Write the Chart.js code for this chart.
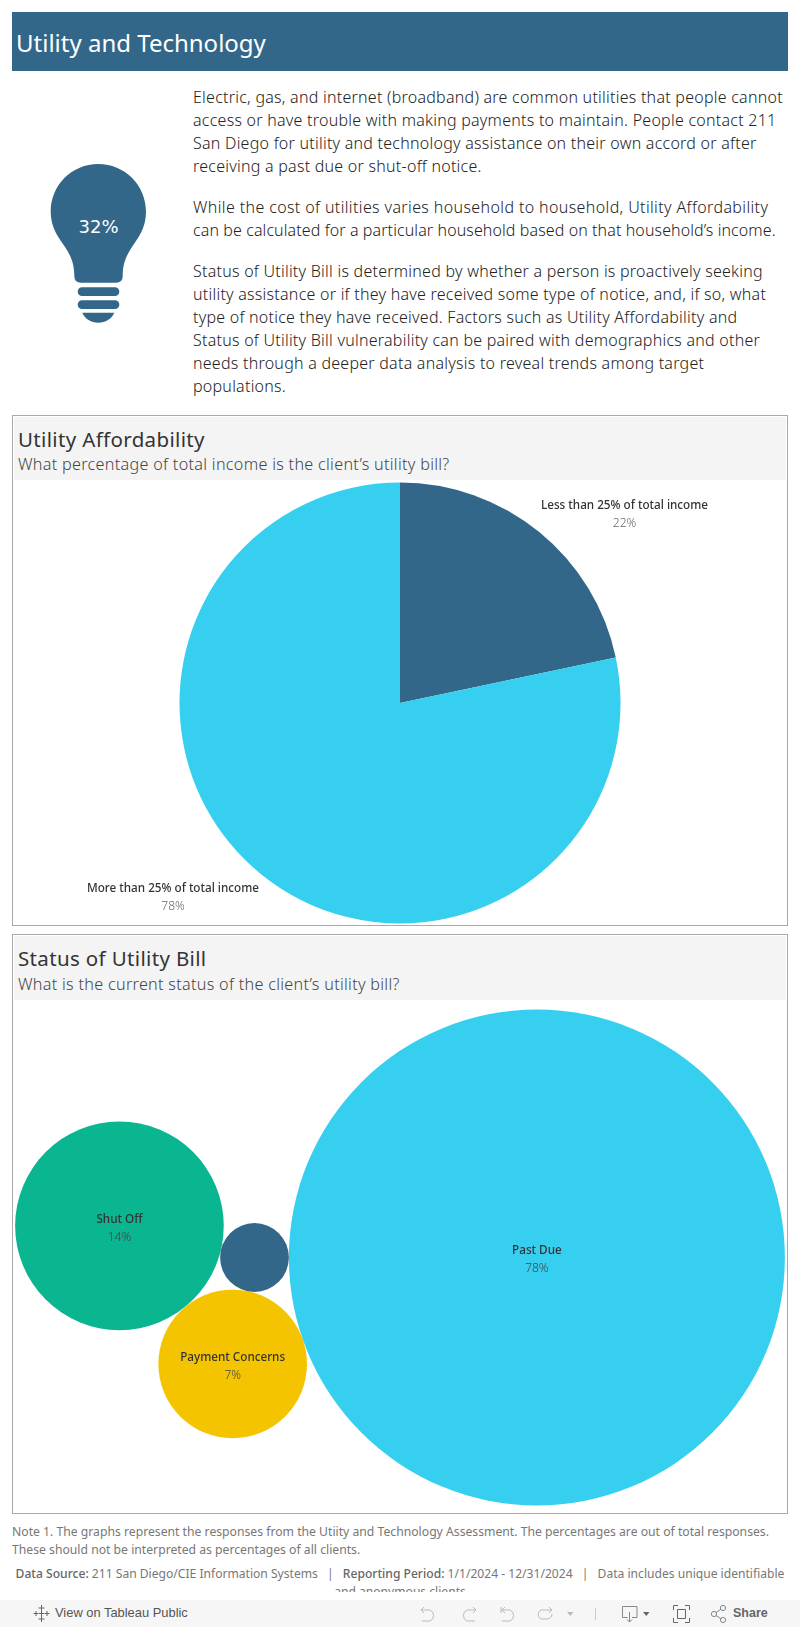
<!DOCTYPE html>
<html>
<head>
<meta charset="utf-8">
<title>Utility and Technology</title>
<script src="https://cdn.jsdelivr.net/npm/chart.js@4"></script>
<style>
  html, body { margin: 0; padding: 0; background: #fff; }
  body { position: relative; width: 800px; height: 1627px; overflow: hidden; font-family: "Noto Sans", sans-serif; color: #333; }
  .abs { position: absolute; white-space: nowrap; }
  #header { left: 12px; top: 12px; width: 776px; height: 59px; background: #33678a; }
  #header span { position: absolute; left: 4px; top: 14px; font-size: 24px; line-height: 34px; color: #fff; }
  .para { left: 193px; font-size: 16px; line-height: 23px; font-weight: 300; letter-spacing: 0.25px; color: #222; }
  .panel { left: 12px; width: 774px; border: 1px solid #aaa; background: #fff; }
  .band { position: absolute; left: 1px; right: 1px; top: 1px; background: #f4f4f4; }
  .ptitle { left: 18px; font-size: 20.5px; line-height: 26px; font-weight: 400; letter-spacing: 0.35px; color: #333; }
  .psub { left: 18px; font-size: 16.2px; line-height: 22px; font-weight: 300; letter-spacing: 0.29px; color: #444; }
  canvas { position: absolute; }
  .note { left: 12px; font-size: 12.2px; line-height: 18px; color: #777; }
  #source { left: 12px; top: 1565px; width: 776px; height: 27px; overflow: hidden; text-align: center; font-size: 12.1px; line-height: 18px; color: #777; }
  #source b { font-weight: 500; color: #666; }
  #source i { font-style: normal; margin: 0 6px; }
  #toolbar { left: 0; top: 1600px; width: 800px; height: 27px; background: #f6f6f6; }
  #toolbar span { position: absolute; top: 4px; font-family: "Liberation Sans", sans-serif; font-size: 12.9px; line-height: 18px; color: #555; }
  #toolbar svg { position: absolute; left: 0; top: 0; }
</style>
</head>
<body>

<div class="abs" id="header"><span>Utility and Technology</span></div>

<svg class="abs" style="left:0;top:0" width="190" height="340">
  <path fill="#33678a" d="M98.3 164C124.6 164 146 185 146 211.7C146 228 138 238 132 247C126 256 122.7 264 122.7 276Q122.7 282.7 116 282.7L81 282.7Q74.3 282.7 74.3 276C74.3 264 71 256 65 247C59 238 50.7 228 50.7 211.7C50.7 185 72 164 98.3 164Z"/>
  <rect x="77.7" y="287.3" width="41.6" height="8.7" rx="4.3" fill="#33678a"/>
  <rect x="77.7" y="300.3" width="41.6" height="8.7" rx="4.3" fill="#33678a"/>
  <path fill="#33678a" d="M82.3 312.7L114.3 312.7C111.5 319 105.5 322.7 98.3 322.7C91 322.7 85 319 82.3 312.7Z"/>
  <text x="98.5" y="233" text-anchor="middle" font-family="DejaVu Sans" font-size="18" fill="#fff">32%</text>
</svg>

<div class="abs para" style="top:86px">Electric, gas, and internet (broadband) are common utilities that people cannot<br>access or have trouble with making payments to maintain. People contact 211<br>San Diego for utility and technology assistance on their own accord or after<br>receiving a past due or shut-off notice.</div>
<div class="abs para" style="top:196px"><span style="letter-spacing:0.38px">While the cost of utilities varies household to household, Utility Affordability</span><br><span style="letter-spacing:0.1px">can be calculated for a particular household based on that household’s income.</span></div>
<div class="abs para" style="top:260px">Status of Utility Bill is determined by whether a person is proactively seeking<br>utility assistance or if they have received some type of notice, and, if so, what<br>type of notice they have received. Factors such as Utility Affordability and<br>Status of Utility Bill vulnerability can be paired with demographics and other<br>needs through a deeper data analysis to reveal trends among target<br>populations.</div>

<div class="abs panel" style="top:415px;height:509px"><div class="band" style="height:63px"></div></div>
<div class="abs ptitle" style="top:426px">Utility Affordability</div>
<div class="abs psub" style="top:453px">What percentage of total income is the client’s utility bill?</div>
<canvas id="pieChart" style="left:13px;top:481px"></canvas>

<div class="abs panel" style="top:934px;height:578px"><div class="band" style="height:64px"></div></div>
<div class="abs ptitle" style="top:945px">Status of Utility Bill</div>
<div class="abs psub" style="top:973px">What is the current status of the client’s utility bill?</div>
<canvas id="bubbleChart" style="left:13px;top:1001px"></canvas>

<div class="abs note" style="top:1523px">Note 1. The graphs represent the responses from the Utiity and Technology Assessment. The percentages are out of total responses.<br>These should not be interpreted as percentages of all clients.</div>
<div class="abs" id="source"><b>Data Source:</b> 211 San Diego/CIE Information Systems <i>|</i> <b>Reporting Period:</b> 1/1/2024 - 12/31/2024 <i>|</i> Data includes unique identifiable<br>and anonymous clients</div>

<div class="abs" id="toolbar">
  <svg width="800" height="27" fill="none" stroke="#888" stroke-width="1">
    <g stroke="#666"><path d="M41.5 5v6M38.5 8h6M41.5 16v6M38.5 19h6M36 11v5M33.5 13.5h5M47 11v5M44.5 13.5h5M41.5 11v5M39 13.5h5"/></g>
    <g stroke="#bbb">
      <path d="M421 10h9a6 6 0 0 1 0 11h-8M421 10l3-3M421 10l3 3"/>
      <path d="M476 10h-9a6 6 0 0 0 0 11h8M476 10l-3-3M476 10l-3 3"/>
      <path d="M501 7v6M501 10h9a6 6 0 0 1 0 11h-8M502 10l3-3M502 10l3 3"/>
      <path d="M552 10h-11a5 5 0 0 0 0 9h6a5 5 0 0 0 5-5M552 10l-3-3M552 10l-3 3"/>
      <path d="M595.5 8v12" stroke="#ccc"/>
    </g>
    <path d="M567 12h6.5l-3.25 4z" fill="#bbb" stroke="none"/>
    <path d="M622.5 6.5h14.5v11h-5M622.5 6.5v11h5M629.5 12v10M627 19.5l2.5 2.5l2.5-2.5"/>
    <path d="M643 12h6.5l-3.25 4z" fill="#666" stroke="none"/>
    <path d="M677.5 9.5h8v9h-8zM673.5 10v-4.5h4.5M689.5 10v-4.5h-4.5M673.5 18v4.5h4.5M689.5 18v4.5h-4.5" stroke="#666"/>
    <circle cx="714" cy="14" r="2.6"/><circle cx="723" cy="8" r="2.6"/><circle cx="723" cy="20" r="2.6"/>
    <path d="M716 12.5l5-3.3M716 15.5l5 3.3"/>
  </svg>
  <span style="left:55px">View on Tableau Public</span>
  <span style="left:733px;font-weight:700;color:#666;font-size:12.5px">Share</span>
</div>

<script>
// affordability pie
const pieLabels = ['Less than 25% of total income', 'More than 25% of total income'];
const pieValues = [21.7, 78.3];
const pieColors = ['#33678a', '#36cff0'];

// status of utility bill bubbles
const bubbleLabels = ['Past Due', 'Shut Off', 'Payment Concerns', ''];
const bubbleValues = [78, 13.8, 7, 1.5];
const bubbleColors = ['#36cff0', '#09b690', '#f5c400', '#33678a'];

const LABEL_FONT = '500 11.7px "Noto Sans", sans-serif';
const VALUE_FONT = '300 12px "Noto Sans", sans-serif';

function makeCanvas(id, width, height) {
    const canvas = document.getElementById(id);
    canvas.style.width = width + 'px';
    canvas.style.height = height + 'px';
    canvas.width = width;
    canvas.height = height;
    return canvas.getContext('2d');
}

function drawTwoLines(ctx, x, y, name, pct, nameColor, pctColor) {
    ctx.save();
    ctx.textAlign = 'center';
    ctx.textBaseline = 'middle';
    ctx.font = LABEL_FONT;
    ctx.fillStyle = nameColor;
    ctx.fillText(name, x, y - 7);
    ctx.font = VALUE_FONT;
    ctx.fillStyle = pctColor;
    ctx.fillText(pct, x, y + 11);
    ctx.restore();
}

// the pie labels sit outside the slices, Tableau style
const pieLabelOffsets = [[224.5, -190.5], [-227, 193]];

new Chart(makeCanvas('pieChart', 774, 444), {
    type: 'pie',
    data: {
        labels: pieLabels,
        datasets: [{
            data: pieValues,
            backgroundColor: pieColors,
            borderWidth: 0,
            radius: 220.5
        }]
    },
    options: {
        responsive: false,
        animation: false,
        layout: { padding: 0 },
        plugins: { legend: { display: false }, tooltip: { enabled: false } }
    },
    plugins: [{
        id: 'pieText',
        afterDatasetsDraw(chart) {
            const arc = chart.getDatasetMeta(0).data[0];
            pieLabels.forEach((label, i) => {
                const pct = Math.round(pieValues[i]) + '%';
                drawTwoLines(chart.ctx, arc.x + pieLabelOffsets[i][0], arc.y + pieLabelOffsets[i][1], label, pct, '#333', '#666');
            });
        }
    }]
});

// packed bubble layout: area follows the value, each circle leans on the earlier ones
function touching(a, ra, b, rb, r, side) {
    const d = Math.hypot(b.x - a.x, b.y - a.y);
    const da = ra + r;
    const db = rb + r;
    const along = (da * da - db * db + d * d) / (2 * d);
    const across = Math.sqrt(da * da - along * along) * side;
    const ux = (b.x - a.x) / d;
    const uy = (b.y - a.y) / d;
    return { x: a.x + ux * along - uy * across, y: a.y + uy * along + ux * across };
}

const sizes = bubbleValues.map(v => Math.sqrt(v));
const packed = [];
packed[0] = { x: 0, y: 0 };
packed[3] = { x: -(sizes[0] + sizes[3]), y: 0 };
packed[2] = touching(packed[0], sizes[0], packed[3], sizes[3], sizes[2], 1);
packed[1] = touching(packed[3], sizes[3], packed[2], sizes[2], sizes[1], -1);

const left = Math.min(...packed.map((p, i) => p.x - sizes[i]));
const right = Math.max(...packed.map((p, i) => p.x + sizes[i]));
const bottom = Math.min(...packed.map((p, i) => p.y - sizes[i]));
const top_ = Math.max(...packed.map((p, i) => p.y + sizes[i]));

const bubbleW = 774;
const bubbleH = 513;
const pxPerUnit = (bubbleH - 17) / (top_ - bottom);
const midX = (left + right) / 2;
const midY = (top_ + bottom) / 2;

new Chart(makeCanvas('bubbleChart', bubbleW, bubbleH), {
    type: 'bubble',
    data: {
        labels: bubbleLabels,
        datasets: [{
            data: packed.map((p, i) => ({ x: p.x, y: p.y, r: sizes[i] * pxPerUnit })),
            backgroundColor: bubbleColors,
            borderWidth: 0,
            hoverRadius: 0
        }]
    },
    options: {
        responsive: false,
        animation: false,
        layout: { padding: 0, autoPadding: false },
        scales: {
            x: { type: 'linear', display: false, min: midX - bubbleW / 2 / pxPerUnit, max: midX + bubbleW / 2 / pxPerUnit },
            y: { type: 'linear', display: false, min: midY - bubbleH / 2 / pxPerUnit, max: midY + bubbleH / 2 / pxPerUnit }
        },
        plugins: { legend: { display: false }, tooltip: { enabled: false } }
    },
    plugins: [{
        id: 'bubbleText',
        afterDatasetsDraw(chart) {
            chart.getDatasetMeta(0).data.forEach((pt, i) => {
                if (!bubbleLabels[i]) return;
                drawTwoLines(chart.ctx, pt.x, pt.y + 0.5, bubbleLabels[i], Math.round(bubbleValues[i]) + '%', '#333', '#444');
            });
        }
    }]
});
</script>
</body>
</html>
